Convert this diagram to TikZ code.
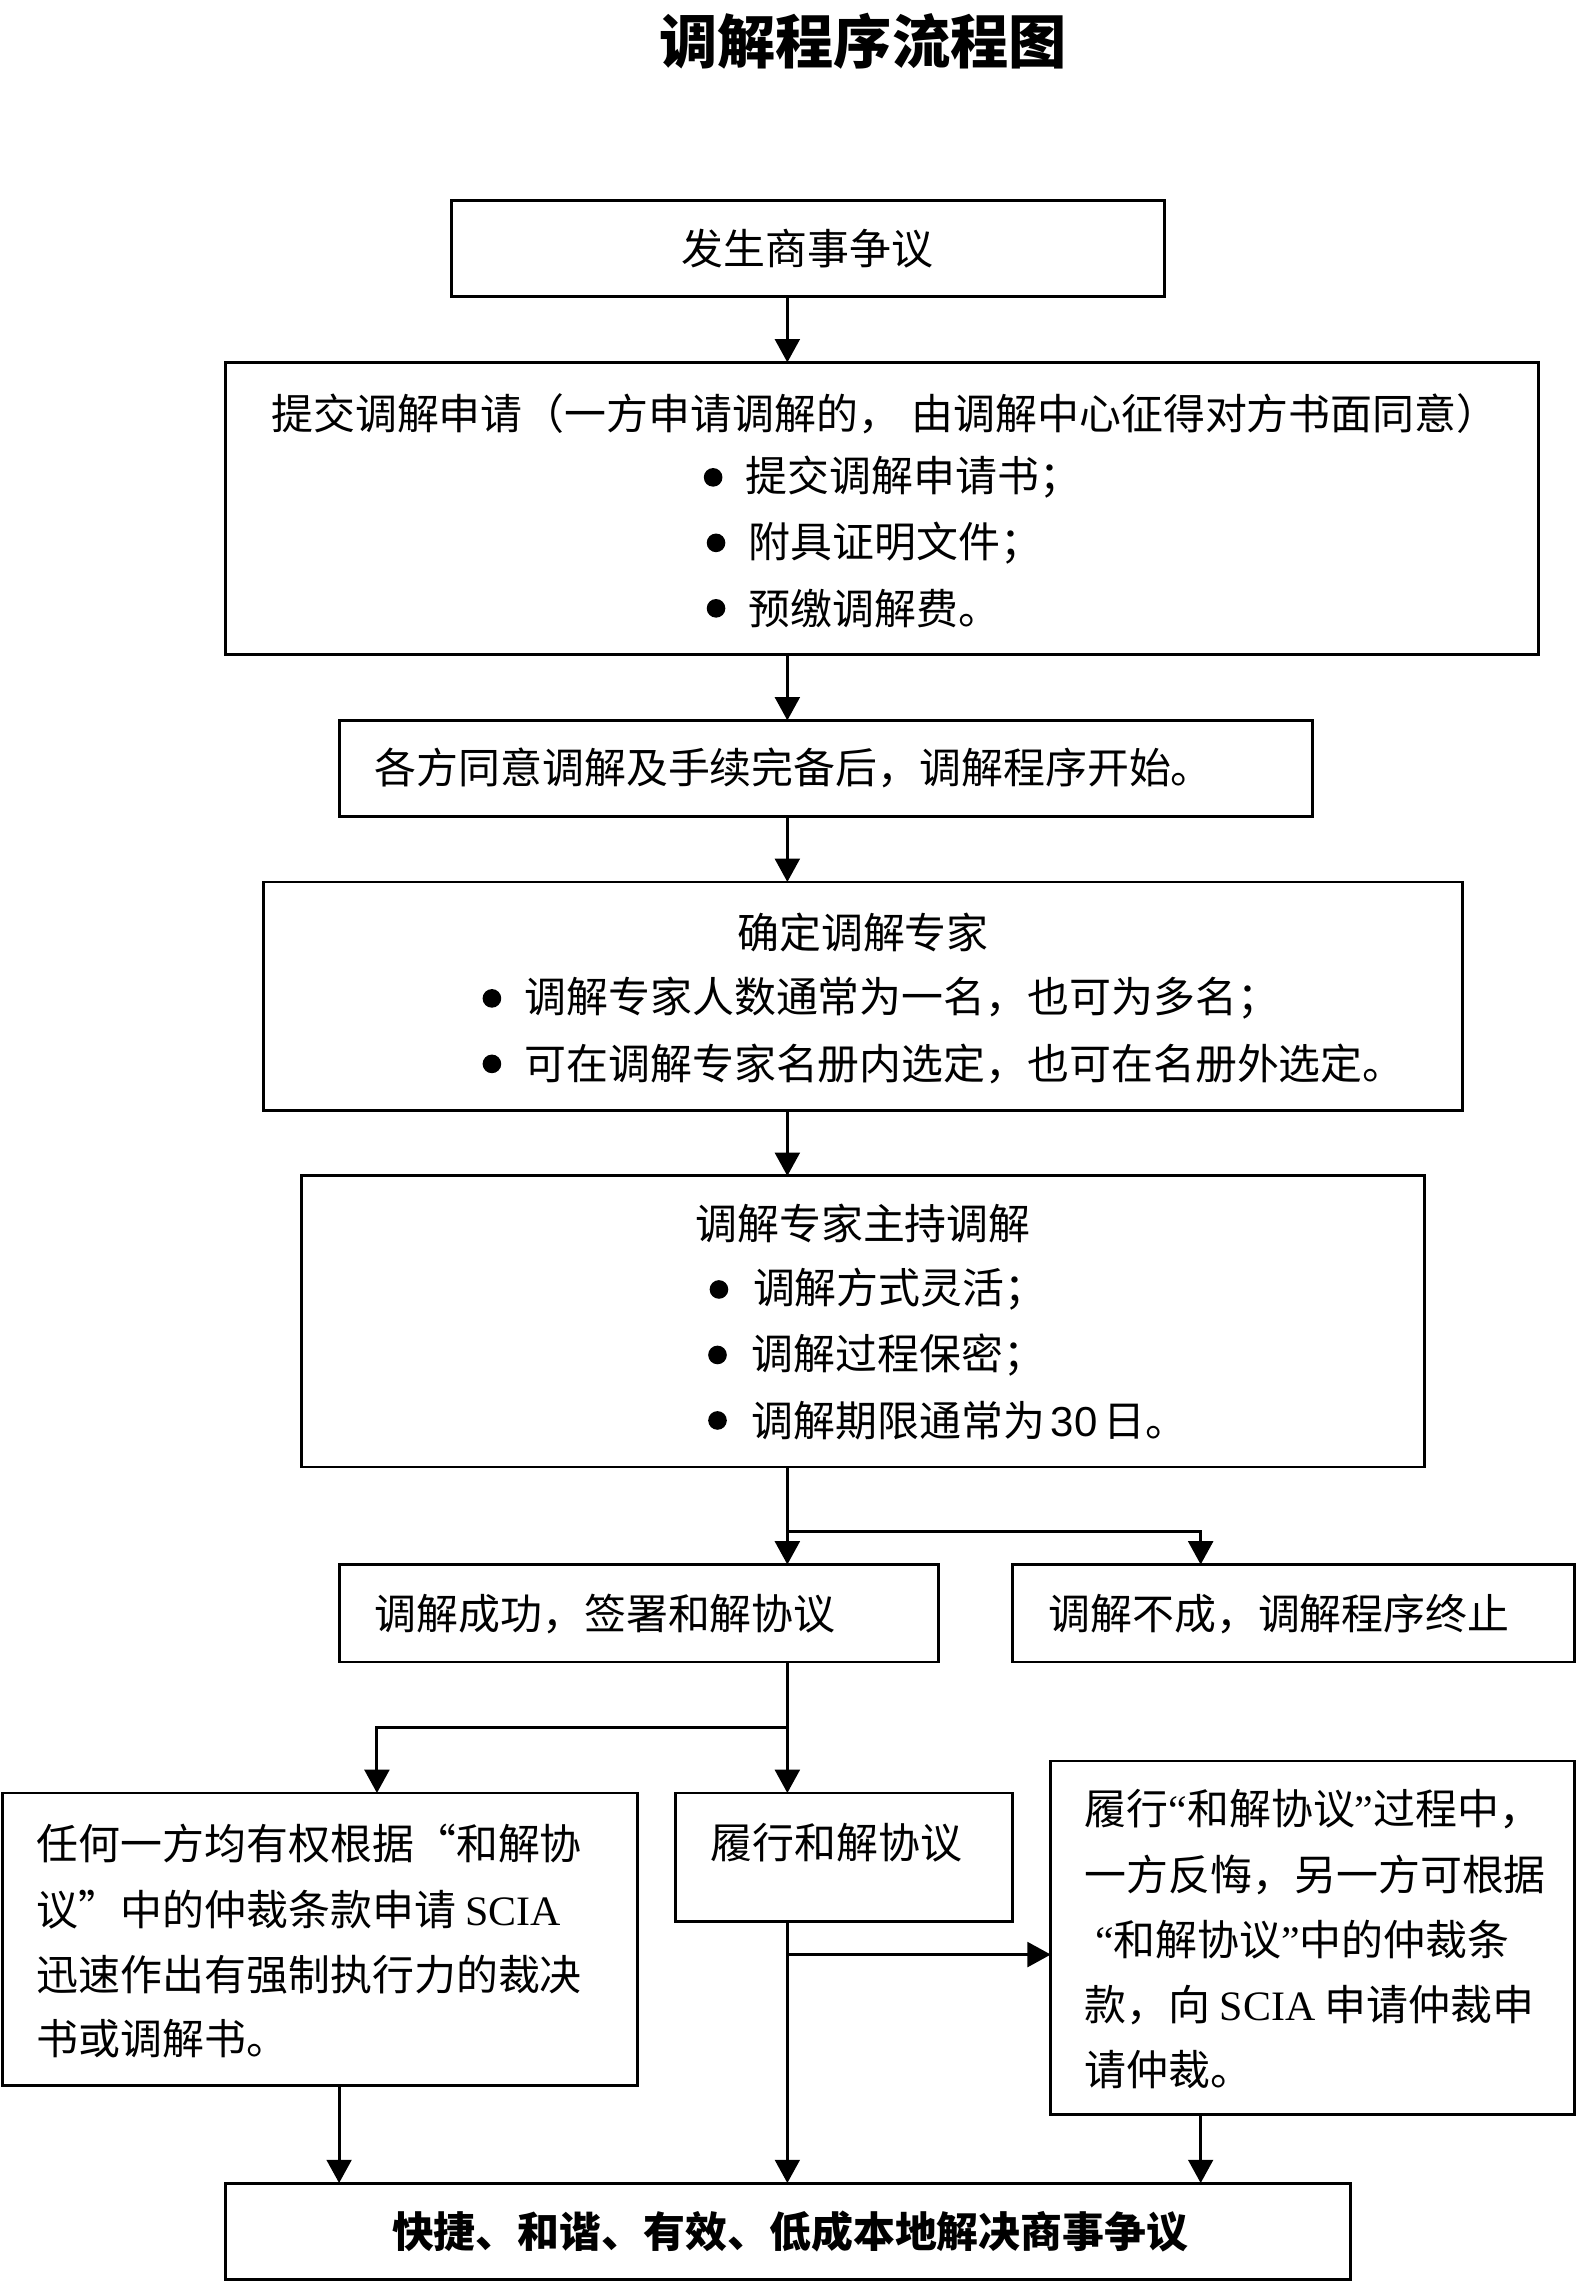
\documentclass[tikz,border=0pt]{standalone}
\usepackage{fontspec}
\setmainfont{Liberation Serif}
\newfontfamily\cjk{Noto Sans CJK SC}
\newfontfamily\latinrm{Liberation Serif}
\newfontfamily\latinsf{Liberation Sans}
\usetikzlibrary{arrows.meta,calc}
\begin{document}
\begin{tikzpicture}[x=0.5pt,y=-0.5pt,
  box/.style={draw,line width=1pt,inner sep=0pt,outer sep=0pt},
  txt/.style={font=\cjk\fontsize{14.4}{17}\selectfont,inner sep=0pt,anchor=west},
  ctxt/.style={font=\cjk\fontsize{14.4}{17}\selectfont,inner sep=0pt,anchor=center},
  conn/.style={line width=1pt},
  arr/.style={line width=1pt,-{Triangle[length=8pt,width=8.5pt]}},
  bul/.style={fill=black}]
\path[use as bounding box] (0,0) rectangle (1085,1568);

% title
\node[font=\cjk\bfseries\fontsize{20}{24}\selectfont,inner sep=0pt] (title) at (593,28) {调解程序流程图};

% boxes
\node[box,minimum width=245pt,minimum height=33pt] (b1) at (555,171) {};
\node[box,minimum width=451pt,minimum height=100.5pt] (b2) at (606,349.5) {};
\node[box,minimum width=334.5pt,minimum height=33pt] (b3) at (567.5,528) {};
\node[box,minimum width=412pt,minimum height=78.5pt] (b4) at (593,684.5) {};
\node[box,minimum width=386pt,minimum height=100pt] (b5) at (593,908) {};
\node[box,minimum width=206pt,minimum height=33.5pt] (b6) at (439,1108.5) {};
\node[box,minimum width=193pt,minimum height=33.5pt] (b7) at (889,1108.5) {};
\node[box,minimum width=218pt,minimum height=100.5pt] (b8) at (220,1332.5) {};
\node[box,minimum width=116pt,minimum height=44pt] (b9) at (580,1276) {};
\node[box,minimum width=180pt,minimum height=121.5pt] (b10) at (902,1331.5) {};
\node[box,minimum width=386.5pt,minimum height=33pt] (b11) at (541.5,1533) {};

% texts
\node[ctxt] (t1) at (555,171) {发生商事争议};

\node[ctxt] (t2) at (608,284) {提交调解申请（一方申请调解的，\hspace{4pt}由调解中心征得对方书面同意）};
\fill[bul] (490,328) circle[radius=3.2pt];
\node[txt] (t2a) at (512,328) {提交调解申请书；};
\fill[bul] (492,373) circle[radius=3.2pt];
\node[txt] (t2b) at (514,373) {附具证明文件；};
\fill[bul] (492,418) circle[radius=3.2pt];
\node[txt] (t2c) at (514,418) {预缴调解费。};

\node[txt] (t3) at (257,528) {各方同意调解及手续完备后，调解程序开始。};

\node[ctxt] (t4) at (593,641) {确定调解专家};
\fill[bul] (338,686) circle[radius=3.2pt];
\node[txt] (t4a) at (360,686) {调解专家人数通常为一名，也可为多名；};
\fill[bul] (338,731) circle[radius=3.2pt];
\node[txt] (t4b) at (360,731) {可在调解专家名册内选定，也可在名册外选定。};

\node[ctxt] (t5) at (593,841) {调解专家主持调解};
\fill[bul] (494,886) circle[radius=3.2pt];
\node[txt] (t5a) at (517,886) {调解方式灵活；};
\fill[bul] (493,931) circle[radius=3.2pt];
\node[txt] (t5b) at (516,931) {调解过程保密；};
\fill[bul] (493,976) circle[radius=3.2pt];
\node[txt] (t5c) at (516,976) {调解期限通常为\hspace{2pt}{\latinsf 30}\hspace{2pt}日。};

\node[txt] (t6) at (257,1109) {调解成功，签署和解协议};
\node[txt] (t7) at (720,1109) {调解不成，调解程序终止};

\node[txt] (t8a) at (25,1267) {任何一方均有权根据“和解协};
\node[txt] (t8b) at (25,1312) {议”中的仲裁条款申请 {\latinrm SCIA}};
\node[txt] (t8c) at (25,1357) {迅速作出有强制执行力的裁决};
\node[txt] (t8d) at (25,1401) {书或调解书。};

\node[txt] (t9) at (488,1266) {履行和解协议};

\node[txt] (t10a) at (745,1243) {履行{\latinrm “}和解协议{\latinrm ”}过程中，};
\node[txt] (t10b) at (745,1288) {一方反悔，另一方可根据};
\node[txt] (t10c) at (752,1333) {{\latinrm “}和解协议{\latinrm ”}中的仲裁条};
\node[txt] (t10d) at (745,1378) {款，向 {\latinrm SCIA} 申请仲裁申};
\node[txt] (t10e) at (745,1422) {请仲裁。};

\node[ctxt,font=\cjk\bfseries\fontsize{14.4}{17}\selectfont] (t11) at (543,1533) {快捷、和谐、有效、低成本地解决商事争议};

% connector helper coordinates
\coordinate (tx) at (541,0);
\coordinate (c7) at (825,0);
\coordinate (c8) at (259,0);
\coordinate (c8b) at (233,0);
\coordinate (j1) at (541,1052);
\coordinate (j2) at (541,1187);
\coordinate (j3) at (541,1343);

% connectors
\draw[arr] (b1.south -| tx) -- (b2.north -| tx);
\draw[arr] (b2.south -| tx) -- (b3.north -| tx);
\draw[arr] (b3.south -| tx) -- (b4.north -| tx);
\draw[arr] (b4.south -| tx) -- (b5.north -| tx);
\draw[arr] (b5.south -| tx) -- (b6.north -| tx);
\draw[arr] (j1) -| (b7.north -| c7);
\draw[arr] (b6.south -| tx) -- (b9.north -| tx);
\draw[arr] (j2) -| (b8.north -| c8);
\draw[arr] (b9.south -| tx) -- (b11.north -| tx);
\draw[arr] (j3) -- (j3 -| b10.west);
\draw[arr] (b8.south -| c8b) -- (b11.north -| c8b);
\draw[arr] (b10.south -| c7) -- (b11.north -| c7);
\end{tikzpicture}
\end{document}
